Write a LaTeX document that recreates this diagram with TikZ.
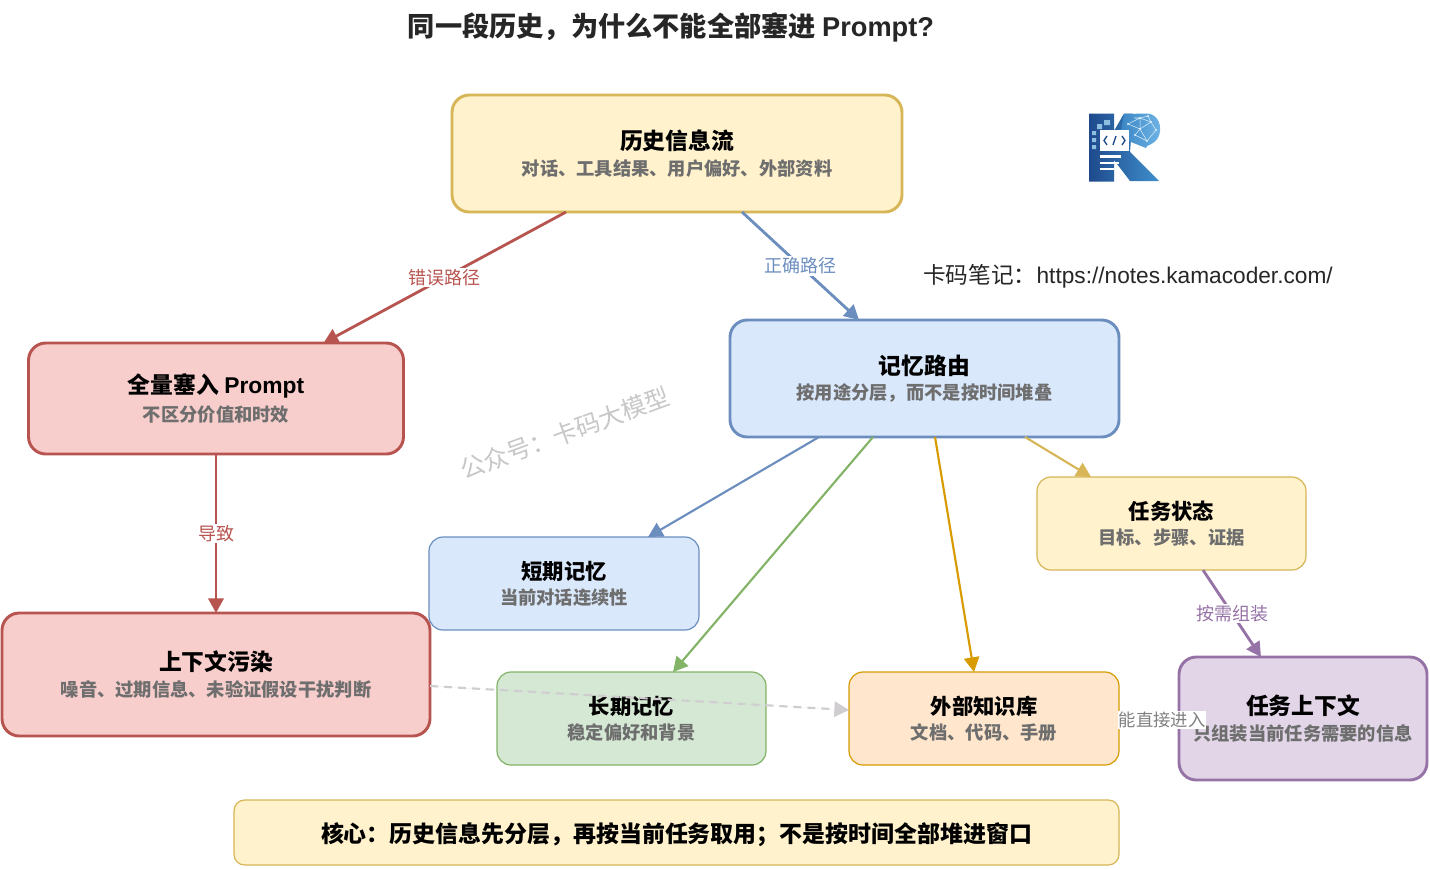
\documentclass[tikz,border=0pt]{standalone}
\usepackage{fontspec}
\setmainfont{Noto Sans CJK SC}
\newfontfamily\lat{Liberation Sans}
\usetikzlibrary{arrows.meta,calc}
\newcommand{\bigttl}{\fontsize{17.1pt}{21pt}\selectfont\bfseries}
\newcommand{\smlttl}{\fontsize{16pt}{21pt}\selectfont\bfseries}
\newcommand{\subt}{\fontsize{13.7pt}{21pt}\selectfont\bfseries\color{subgray}}
\newcommand{\gap}{\\[4.6pt]}
\definecolor{subgray}{HTML}{6E6E6E}
\definecolor{yF}{HTML}{FFF2CC}\definecolor{yD}{HTML}{D6B656}
\definecolor{rF}{HTML}{F8CECC}\definecolor{rD}{HTML}{B85450}
\definecolor{bF}{HTML}{DAE8FC}\definecolor{bD}{HTML}{6C8EBF}
\definecolor{gF}{HTML}{D5E8D4}\definecolor{gD}{HTML}{82B366}
\definecolor{oF}{HTML}{FFE6CC}\definecolor{oD}{HTML}{D79B00}
\definecolor{pF}{HTML}{E1D5E7}\definecolor{pD}{HTML}{9673A6}
\definecolor{dashc}{HTML}{CFCDCF}
\definecolor{logoA}{HTML}{1E4A8C}\definecolor{logoB}{HTML}{3F8FCC}
\definecolor{logoC}{HTML}{6FB4E6}\definecolor{logoD}{HTML}{D8EEFB}\definecolor{logoE}{HTML}{8FBFE0}
\tikzset{
  x=0.75pt,y=-0.75pt,
  box/.style n args={4}{draw=#4,fill=#3,minimum width=#1*0.75pt,minimum height=#2*0.75pt,
    rounded corners=13pt,outer sep=0pt,inner sep=0pt,align=center,line width=2.2pt,text=black},
  thinbox/.style={line width=0.9pt,rounded corners=10.5pt},
  conn/.style={line width=#1,-{Triangle[length=11pt,width=11.5pt]}},
  conn/.default=2.1pt,
  elabel/.style={fill=white,inner sep=1pt,font=\fontsize{13.5pt}{16pt}\selectfont},
}
\begin{document}
\begin{tikzpicture}
\useasboundingbox (0,0) rectangle (1430,869);
\fill[white] (0,0) rectangle (1430,869);

\node[font=\fontsize{20.4pt}{24pt}\selectfont\bfseries,text=black!85] (title) at (671,27.5) {同一段历史，为什么不能全部塞进 {\lat Prompt?}};

\node[box={450}{117}{yF}{yD}] (hist) at (677,153.5) {\bigttl 历史信息流\gap\subt 对话、工具结果、用户偏好、外部资料};
\node[box={375}{111}{rF}{rD}] (full) at (216,398.5) {\bigttl 全量塞入 {\lat Prompt}\gap\subt 不区分价值和时效};
\node[box={389}{117}{bF}{bD}] (route) at (924.5,378.5) {\bigttl 记忆路由\gap\subt 按用途分层，而不是按时间堆叠};
\node[box={270}{93}{bF}{bD},thinbox] (short) at (564,583.5) {\smlttl 短期记忆\gap\subt 当前对话连续性};
\node[box={269}{93}{yF}{yD},thinbox] (task) at (1171.5,523.5) {\smlttl 任务状态\gap\subt 目标、步骤、证据};
\node[box={428}{123}{rF}{rD}] (pollute) at (216,674.5) {\bigttl 上下文污染\gap\subt 噪音、过期信息、未验证假设干扰判断};
\node[box={269}{93}{gF}{gD},thinbox] (long) at (631.5,718.5) {\smlttl 长期记忆\gap\subt 稳定偏好和背景};
\node[box={270}{93}{oF}{oD},thinbox] (ext) at (984,718.5) {\smlttl 外部知识库\gap\subt 文档、代码、手册};
\node[box={248}{123}{pF}{pD}] (ctx) at (1303,718.5) {\bigttl 任务上下文\gap\subt 只组装当前任务需要的信息};
\node[box={885}{65}{yF}{yD},thinbox,rounded corners=8pt,text depth=0pt] (core) at (676.5,832.5) {\fontsize{17.2pt}{21pt}\selectfont\bfseries 核心：历史信息先分层，再按当前任务取用；不是按时间全部堆进窗口};

% connectors
\draw[conn,draw=rD,fill=rD] ($(hist.south west)+(114,0)$) -- node[elabel,text=rD,pos=0.5] (l1) {错误路径} ($(full.north west)+(295,0)$);
\draw[conn,draw=bD,fill=bD] ($(hist.south west)+(290,0)$) -- node[elabel,text=bD,pos=0.5] (l2) {正确路径} ($(route.north west)+(129,0)$);
\draw[conn,draw=rD,fill=rD] (full.south) -- node[elabel,text=rD,pos=0.5] (l3) {导致} (pollute.north);
\draw[conn=1.6pt,draw=bD,fill=bD] ($(route.south west)+(89,0)$) -- ($(short.north west)+(219,0)$);
\draw[conn=1.6pt,draw=gD,fill=gD] ($(route.south west)+(143,0)$) -- ($(long.north west)+(176,0)$);
\draw[conn=1.6pt,draw=oD,fill=oD] ($(route.south west)+(205,0)$) -- ($(ext.north west)+(125,0)$);
\draw[conn=1.6pt,draw=yD,fill=yD] ($(route.south west)+(295,0)$) -- ($(task.north west)+(54,0)$);
\draw[conn,draw=pD,fill=pD] ($(task.south west)+(166,0)$) -- node[elabel,text=pD,pos=0.5] (l4) {按需组装} ($(ctx.north west)+(82,0)$);
\draw[draw=dashc,fill=dashc,line width=1.6pt,dash pattern=on 6pt off 4.5pt,-{Triangle[length=11pt,width=11.5pt]}] ($(pollute.south east)+(0,-50)$) -- ($(ext.south west)+(0,-55)$);
\node[fill=white,inner sep=0.6pt,text=black!50,font=\fontsize{13pt}{16pt}\selectfont] (l5) at (1162,720) {能直接进入};

% watermark
\node[rotate=20,text=black!22,font=\fontsize{18.4pt}{22pt}\selectfont] (wm) at (565,433) {公众号：卡码大模型};

% site text
\node[anchor=west,inner sep=0pt,text=black!85,font=\fontsize{17pt}{20pt}\selectfont] (site) at (923,276) {卡码笔记：{\lat https://notes.kamacoder.com/}};

% logo
\shade[left color=logoA,right color=logoB]
  (1089,113.5) -- (1114,113.5) -- (1114,131) -- (1124,113.5) -- (1133,113.5) -- (1130,152) -- (1159,181) -- (1130,181) -- (1114,160) -- (1114,181.5) -- (1089,181.5) -- cycle;
\shade[left color=logoB!85!logoA,right color=logoC] (1124,114) -- (1147,113.5) .. controls (1156,114) and (1161,122) .. (1160,131) .. controls (1159,141) and (1152,144) .. (1147,146) -- (1146,148) -- (1131,142) -- (1120,136) -- cycle;
\draw[logoD,line width=0.4pt] (1128,124) -- (1140,118) -- (1151,122) -- (1156,130) -- (1147,141) -- (1140,129) -- (1128,124) (1140,118) -- (1140,129) -- (1151,122) (1147,141) -- (1135,135) -- (1140,129) (1134,118) -- (1140,118) -- (1148,116) -- (1151,122);
\fill[logoD] (1128,124) circle (1.1) (1140,118) circle (1.1) (1151,122) circle (1.1) (1156,130) circle (1.1) (1147,141) circle (1.1) (1140,129) circle (1.1) (1135,135) circle (1.1) (1148,116) circle (1.1);
\fill[white] (1100,130) rectangle (1129,151);
\fill[white] (1100,155) rectangle (1121,157.5);
\fill[white] (1100,161.5) rectangle (1119,163.5);
\fill[white] (1100,168) rectangle (1114,170);
\draw[logoA,line width=1pt] (1107,136) -- (1104,140.5) -- (1107,145) (1116,136) -- (1113,145) (1122,136) -- (1125,140.5) -- (1122,145);
\fill[logoE] (1097,124) rectangle (1102,129) (1104,120) rectangle (1110,125) (1092,131) rectangle (1096,135) (1092,138) rectangle (1096,142) (1092,145) rectangle (1096,149);
\end{tikzpicture}
\end{document}
